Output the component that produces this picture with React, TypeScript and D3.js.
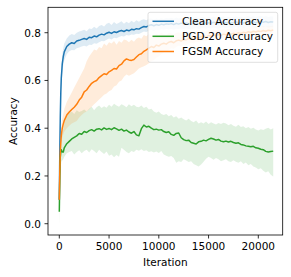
import React from "react";
import * as d3 from "d3";

const iterations = [
  0, 50, 100, 150, 200, 300, 400,
  500, 750, 1000, 1250, 1500, 1750, 2000, 2250,
  2500, 2750, 3000, 3250, 3500, 3750, 4000, 4250,
  4500, 4750, 5000, 5250, 5500, 5750, 6000, 6250,
  6500, 6750, 7000, 7250, 7500, 7750, 8000, 8250,
  8500, 8750, 9000, 9250, 9500, 9750, 10000, 10250,
  10500, 10750, 11000, 11250, 11500, 11750, 12000, 12250,
  12500, 12750, 13000, 13250, 13500, 13750, 14000, 14250,
  14500, 14750, 15000, 15250, 15500, 15750, 16000, 16250,
  16500, 16750, 17000, 17250, 17500, 17750, 18000, 18250,
  18500, 18750, 19000, 19250, 19500, 19750, 20000, 20250,
  20500, 20750, 21000, 21250, 21500,
];

const cleanMean = [
  0.10, 0.30, 0.45, 0.55, 0.61, 0.67, 0.70,
  0.72, 0.742, 0.752, 0.758, 0.755, 0.765, 0.768, 0.772,
  0.776, 0.772, 0.781, 0.779, 0.786, 0.783, 0.790, 0.794,
  0.791, 0.798, 0.802, 0.797, 0.804, 0.801, 0.806, 0.809,
  0.805, 0.811, 0.808, 0.814, 0.812, 0.817, 0.815, 0.821,
  0.826, 0.824, 0.830, 0.833, 0.829, 0.834, 0.831, 0.836,
  0.833, 0.837, 0.835, 0.838, 0.834, 0.839, 0.836, 0.840,
  0.837, 0.841, 0.838, 0.835, 0.840, 0.842, 0.838, 0.841,
  0.843, 0.839, 0.842, 0.840, 0.844, 0.841, 0.838, 0.843,
  0.845, 0.841, 0.844, 0.840, 0.843, 0.846, 0.842, 0.845,
  0.841, 0.844, 0.847, 0.843, 0.846, 0.842, 0.845, 0.848,
  0.844, 0.847, 0.843, 0.846, 0.845,
];
const cleanHi = [
  0.16, 0.38, 0.52, 0.61, 0.66, 0.71, 0.735,
  0.755, 0.776, 0.788, 0.795, 0.790, 0.800, 0.805, 0.808,
  0.812, 0.806, 0.818, 0.815, 0.825, 0.818, 0.828, 0.832,
  0.826, 0.838, 0.842, 0.832, 0.845, 0.836, 0.842, 0.848,
  0.838, 0.846, 0.840, 0.850, 0.843, 0.852, 0.846, 0.853,
  0.856, 0.852, 0.858, 0.860, 0.855, 0.860, 0.856, 0.861,
  0.857, 0.862, 0.859, 0.863, 0.858, 0.864, 0.860, 0.864,
  0.861, 0.865, 0.862, 0.858, 0.864, 0.866, 0.861, 0.865,
  0.866, 0.862, 0.866, 0.863, 0.868, 0.864, 0.861, 0.867,
  0.868, 0.864, 0.867, 0.863, 0.866, 0.869, 0.865, 0.868,
  0.864, 0.867, 0.870, 0.866, 0.869, 0.865, 0.868, 0.871,
  0.867, 0.870, 0.866, 0.869, 0.868,
];
const cleanLo = [
  0.06, 0.22, 0.38, 0.49, 0.56, 0.63, 0.665,
  0.685, 0.71, 0.722, 0.728, 0.726, 0.735, 0.738, 0.742,
  0.745, 0.742, 0.750, 0.749, 0.756, 0.754, 0.760, 0.765,
  0.764, 0.771, 0.776, 0.772, 0.779, 0.777, 0.782, 0.786,
  0.784, 0.790, 0.788, 0.793, 0.791, 0.796, 0.795, 0.800,
  0.805, 0.803, 0.808, 0.811, 0.808, 0.812, 0.810, 0.814,
  0.812, 0.815, 0.813, 0.816, 0.812, 0.817, 0.815, 0.818,
  0.815, 0.819, 0.816, 0.813, 0.818, 0.820, 0.816, 0.819,
  0.821, 0.817, 0.820, 0.818, 0.822, 0.819, 0.816, 0.821,
  0.823, 0.819, 0.822, 0.818, 0.821, 0.824, 0.820, 0.823,
  0.819, 0.822, 0.825, 0.821, 0.824, 0.820, 0.823, 0.826,
  0.822, 0.825, 0.821, 0.824, 0.823,
];

const pgdMean = [
  0.05, 0.20, 0.28, 0.30, 0.31, 0.30, 0.30,
  0.318, 0.335, 0.345, 0.355, 0.362, 0.368, 0.378, 0.375,
  0.386, 0.382, 0.390, 0.394, 0.388, 0.396, 0.398, 0.393,
  0.401, 0.395, 0.399, 0.394, 0.402, 0.397, 0.391, 0.396,
  0.388, 0.392, 0.384, 0.379, 0.386, 0.372, 0.368, 0.398,
  0.413, 0.405, 0.408, 0.400, 0.394, 0.396, 0.392, 0.394,
  0.386, 0.382, 0.385, 0.374, 0.370, 0.378, 0.380, 0.360,
  0.352, 0.348, 0.350, 0.340, 0.337, 0.334, 0.343, 0.345,
  0.350, 0.347, 0.353, 0.358, 0.355, 0.350, 0.353, 0.346,
  0.343, 0.346, 0.342, 0.345, 0.340, 0.337, 0.339, 0.332,
  0.330, 0.326, 0.324, 0.322, 0.324, 0.318, 0.316, 0.312,
  0.310, 0.303, 0.300, 0.302, 0.304,
];
const pgdHi = [
  0.10, 0.26, 0.33, 0.35, 0.37, 0.38, 0.40,
  0.43, 0.455, 0.465, 0.47, 0.46, 0.475, 0.468, 0.472,
  0.478, 0.47, 0.482, 0.49, 0.475, 0.488, 0.495, 0.485,
  0.492, 0.486, 0.498, 0.49, 0.502, 0.495, 0.49, 0.5,
  0.495, 0.488, 0.5, 0.492, 0.498, 0.49, 0.488, 0.495,
  0.485, 0.49, 0.478, 0.482, 0.47, 0.465, 0.47, 0.46,
  0.455, 0.46, 0.45, 0.455, 0.445, 0.45, 0.44, 0.445,
  0.438, 0.432, 0.44, 0.43, 0.425, 0.432, 0.42, 0.425,
  0.42, 0.428, 0.418, 0.425, 0.42, 0.415, 0.422, 0.418,
  0.423, 0.42, 0.412, 0.418, 0.41, 0.406, 0.414, 0.405,
  0.408, 0.4, 0.405, 0.398, 0.402, 0.395, 0.39, 0.396,
  0.392, 0.398, 0.402, 0.395, 0.40,
];
const pgdLo = [
  -0.005, 0.12, 0.20, 0.24, 0.26, 0.265, 0.27,
  0.28, 0.295, 0.30, 0.305, 0.29, 0.30, 0.308, 0.295,
  0.305, 0.31, 0.298, 0.312, 0.305, 0.295, 0.31, 0.3,
  0.292, 0.302, 0.285, 0.29, 0.278, 0.288, 0.28, 0.318,
  0.31, 0.3, 0.295, 0.305, 0.3, 0.31, 0.306, 0.312,
  0.305, 0.308, 0.3, 0.304, 0.298, 0.302, 0.296, 0.305,
  0.29, 0.285, 0.28, 0.284, 0.275, 0.255, 0.262, 0.258,
  0.27, 0.265, 0.258, 0.262, 0.25, 0.245, 0.24, 0.248,
  0.26, 0.272, 0.28, 0.275, 0.268, 0.275, 0.27, 0.262,
  0.266, 0.27, 0.262, 0.258, 0.266, 0.26, 0.255, 0.262,
  0.25, 0.256, 0.245, 0.25, 0.24, 0.235, 0.228, 0.232,
  0.222, 0.215, 0.22, 0.205, 0.198,
];

const fgsmMean = [
  0.10, 0.22, 0.30, 0.34, 0.37, 0.40, 0.418,
  0.432, 0.455, 0.468, 0.478, 0.488, 0.500, 0.518, 0.530,
  0.552, 0.560, 0.575, 0.588, 0.595, 0.600, 0.612, 0.620,
  0.628, 0.625, 0.636, 0.642, 0.650, 0.648, 0.662, 0.668,
  0.682, 0.690, 0.686, 0.684, 0.688, 0.698, 0.708, 0.712,
  0.722, 0.728, 0.735, 0.742, 0.738, 0.748, 0.744, 0.752,
  0.756, 0.752, 0.760, 0.763, 0.758, 0.766, 0.769, 0.765,
  0.772, 0.770, 0.775, 0.778, 0.774, 0.780, 0.777, 0.783,
  0.786, 0.781, 0.788, 0.785, 0.790, 0.787, 0.792, 0.789,
  0.794, 0.791, 0.796, 0.793, 0.798, 0.795, 0.800, 0.797,
  0.802, 0.799, 0.804, 0.801, 0.806, 0.803, 0.807, 0.805,
  0.809, 0.806, 0.810, 0.808, 0.811,
];
const fgsmHi = [
  0.12, 0.26, 0.34, 0.38, 0.41, 0.44, 0.46,
  0.48, 0.51, 0.53, 0.55, 0.57, 0.59, 0.61, 0.63,
  0.65, 0.68, 0.70, 0.715, 0.73, 0.725, 0.74, 0.735,
  0.755, 0.745, 0.76, 0.755, 0.765, 0.75, 0.765, 0.758,
  0.772, 0.768, 0.76, 0.77, 0.762, 0.775, 0.78, 0.775,
  0.79, 0.785, 0.795, 0.79, 0.785, 0.795, 0.79, 0.80,
  0.795, 0.79, 0.80, 0.798, 0.792, 0.80, 0.802, 0.797,
  0.80, 0.798, 0.803, 0.805, 0.80, 0.806, 0.802, 0.808,
  0.81, 0.804, 0.811, 0.808, 0.813, 0.809, 0.815, 0.811,
  0.816, 0.812, 0.818, 0.814, 0.82, 0.816, 0.822, 0.818,
  0.823, 0.819, 0.825, 0.821, 0.827, 0.823, 0.828, 0.825,
  0.829, 0.825, 0.83, 0.827, 0.83,
];
const fgsmLo = [
  0.08, 0.18, 0.26, 0.30, 0.33, 0.36, 0.375,
  0.385, 0.40, 0.41, 0.42, 0.425, 0.43, 0.445, 0.455,
  0.465, 0.47, 0.478, 0.49, 0.50, 0.51, 0.52, 0.53,
  0.54, 0.545, 0.555, 0.56, 0.575, 0.58, 0.595, 0.60,
  0.615, 0.625, 0.62, 0.625, 0.63, 0.64, 0.65, 0.655,
  0.66, 0.665, 0.672, 0.68, 0.685, 0.695, 0.70, 0.71,
  0.718, 0.72, 0.728, 0.735, 0.732, 0.74, 0.745, 0.742,
  0.75, 0.75, 0.755, 0.758, 0.755, 0.762, 0.76, 0.765,
  0.768, 0.764, 0.77, 0.768, 0.772, 0.77, 0.775, 0.772,
  0.776, 0.774, 0.778, 0.776, 0.78, 0.778, 0.782, 0.78,
  0.784, 0.781, 0.786, 0.783, 0.788, 0.785, 0.789, 0.787,
  0.79, 0.788, 0.792, 0.79, 0.793,
];

const seriesNames = ["Clean Accuracy", "PGD-20 Accuracy", "FGSM Accuracy"];
const seriesColors = ["#1f77b4", "#2ca02c", "#ff7f0e"];
const xTicks = [0, 5000, 10000, 15000, 20000];
const yTicks = [0.0, 0.2, 0.4, 0.6, 0.8];

const W = 291;
const H = 277;
const FONT = "'DejaVu Sans', sans-serif";
const FS = 10.5;

export default function App() {
  const left = 48, right = 282.7, top = 7.3, bottom = 235;
  const x = d3.scaleLinear().domain([-1136, 22452]).range([left, right]);
  const y = d3.scaleLinear().domain([-0.0473, 0.9064]).range([bottom, top]);

  const series = [
    { name: seriesNames[0], color: seriesColors[0], mean: cleanMean, hi: cleanHi, lo: cleanLo },
    { name: seriesNames[1], color: seriesColors[1], mean: pgdMean, hi: pgdHi, lo: pgdLo },
    { name: seriesNames[2], color: seriesColors[2], mean: fgsmMean, hi: fgsmHi, lo: fgsmLo },
  ];

  const line = d3.line<number>().x((_, i) => x(iterations[i])).y((d) => y(d));

  const legendX = 148, legendY = 12.3, legendW = 129.7, legendH = 50;
  const rowY = [21.3, 36.3, 51.5];

  return (
    <svg width={W} height={H} style={{ position: "absolute", left: 0, top: 0 }} fontFamily={FONT}>
      <rect x={0} y={0} width={W} height={H} fill="#fff" />
      <defs>
        <clipPath id="plotclip">
          <rect x={left} y={top} width={right - left} height={bottom - top} />
        </clipPath>
      </defs>
      <g clipPath="url(#plotclip)">
        {series.map((s) => {
          const area = d3
            .area<number>()
            .x((_, i) => x(iterations[i]))
            .y0((_, i) => y(s.lo[i]))
            .y1((_, i) => y(s.hi[i]));
          return (
            <g key={s.name}>
              <path d={area(s.mean) || ""} fill={s.color} fillOpacity={0.15} stroke="none" />
              <path d={line(s.mean) || ""} fill="none" stroke={s.color} strokeWidth={1.5} strokeLinejoin="round" />
            </g>
          );
        })}
      </g>
      <rect x={left} y={top} width={right - left} height={bottom - top} fill="none" stroke="#000" strokeWidth={0.8} />
      {xTicks.map((t) => (
        <g key={"x" + t}>
          <line x1={x(t)} x2={x(t)} y1={bottom} y2={bottom + 3.5} stroke="#000" strokeWidth={0.8} />
          <text x={x(t)} y={bottom + 15} fontSize={FS} textAnchor="middle" fill="#000">
            {t}
          </text>
        </g>
      ))}
      {yTicks.map((t) => (
        <g key={"y" + t}>
          <line x1={left - 3.5} x2={left} y1={y(t)} y2={y(t)} stroke="#000" strokeWidth={0.8} />
          <text x={left - 7} y={y(t) + 3.8} fontSize={FS} textAnchor="end" fill="#000">
            {t.toFixed(1)}
          </text>
        </g>
      ))}
      <text x={(left + right) / 2} y={266} fontSize={FS} textAnchor="middle" fill="#000">
        Iteration
      </text>
      <text
        transform={`translate(17, ${(top + bottom) / 2}) rotate(-90)`}
        fontSize={FS}
        textAnchor="middle"
        fill="#000"
      >
        Accuracy
      </text>
      <rect
        x={legendX}
        y={legendY}
        width={legendW}
        height={legendH}
        rx={2}
        fill="#fff"
        fillOpacity={0.8}
        stroke="#ccc"
        strokeOpacity={0.8}
        strokeWidth={0.8}
      />
      {series.map((s, i) => (
        <g key={"lg" + s.name}>
          <line x1={152.5} x2={174} y1={rowY[i]} y2={rowY[i]} stroke={s.color} strokeWidth={1.5} />
          <text x={182} y={rowY[i] + 3.8} fontSize={FS} fill="#000">
            {s.name}
          </text>
        </g>
      ))}
    </svg>
  );
}
